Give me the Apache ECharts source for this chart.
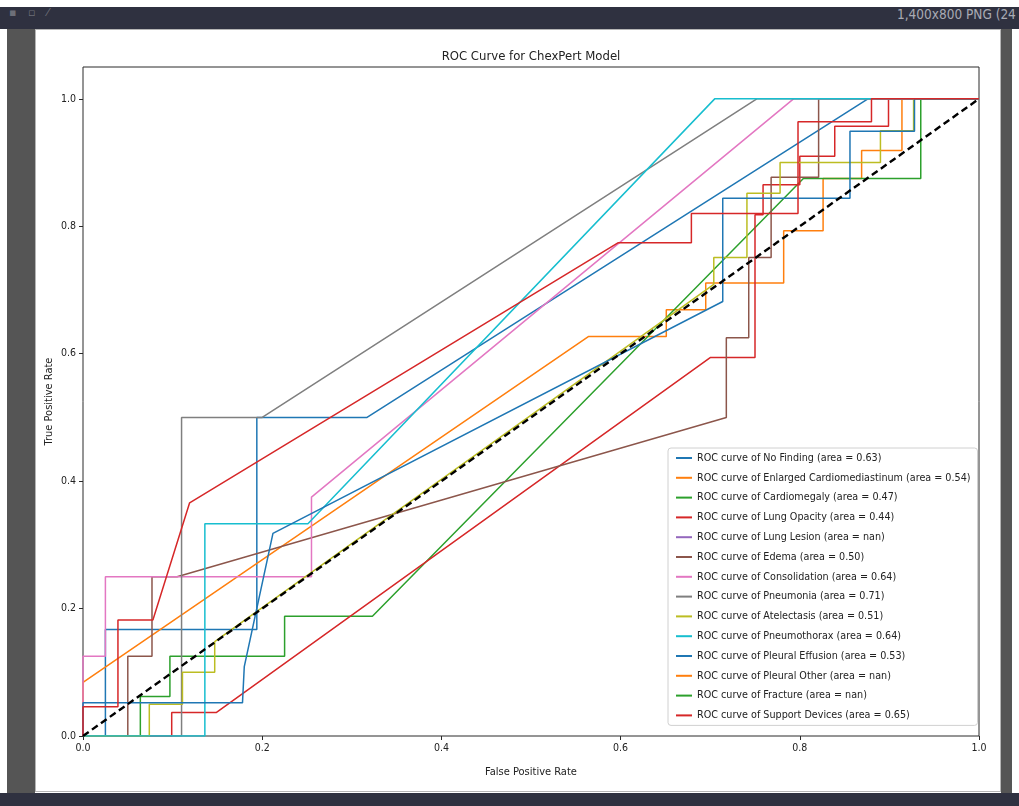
<!DOCTYPE html>
<html>
<head>
<meta charset="utf-8">
<title>ROC Curve for ChexPert Model</title>
<script src="https://cdn.jsdelivr.net/npm/echarts@6/dist/echarts.min.js"></script>
<style>
  html, body { margin: 0; padding: 0; background: #fff; }
  #frame { position: relative; width: 1019px; height: 806px; overflow: hidden; background: #fff; }
  .band { position: absolute; background: #2f3140; }
  .side { position: absolute; background: #555; }
  #paper { position: absolute; left: 35px; top: 29px; width: 966px; height: 763px; background: #fff; border: 1px solid #b5b5b5; box-sizing: border-box; }
  #chart { position: absolute; left: 36px; top: 30px; width: 964px; height: 761px; }
  #info { position: absolute; left: 897px; top: 6px; color: #a9abb4; font: 13.5px 'DejaVu Sans Condensed', 'DejaVu Sans', sans-serif; white-space: nowrap; }
  #icons { position: absolute; left: 9px; top: 6px; color: #6d6f78; font: 11px 'DejaVu Sans', sans-serif; letter-spacing: 4px; }
</style>
</head>
<body>
<div id="frame">
  <div class="band" style="left:0;top:7px;width:1019px;height:22px"></div>
  <div class="side" style="left:7px;top:29px;width:28px;height:764px"></div>
  <div class="side" style="left:1001px;top:29px;width:11px;height:764px"></div>
  <div class="band" style="left:0;top:793px;width:1019px;height:13px"></div>
  <div id="icons">▪ ▫ ⁄</div>
  <div id="info">1,400x800 PNG (24</div>
  <div id="paper"></div>
  <div id="chart"></div>
</div>
<script>
// ROC points (fpr, tpr)
const legendNames = [
  'ROC curve of No Finding (area = 0.63)',
  'ROC curve of Enlarged Cardiomediastinum (area = 0.54)',
  'ROC curve of Cardiomegaly (area = 0.47)',
  'ROC curve of Lung Opacity (area = 0.44)',
  'ROC curve of Lung Lesion (area = nan)',
  'ROC curve of Edema (area = 0.50)',
  'ROC curve of Consolidation (area = 0.64)',
  'ROC curve of Pneumonia (area = 0.71)',
  'ROC curve of Atelectasis (area = 0.51)',
  'ROC curve of Pneumothorax (area = 0.64)',
  'ROC curve of Pleural Effusion (area = 0.53)',
  'ROC curve of Pleural Other (area = nan)',
  'ROC curve of Fracture (area = nan)',
  'ROC curve of Support Devices (area = 0.65)'
];

const noFindingFpr = [0, 0.025, 0.025, 0.194, 0.194, 0.317, 0.876, 1];
const noFindingTpr = [0, 0, 0.167, 0.167, 0.5, 0.5, 1, 1];

const enlargedFpr = [0, 0, 0.564, 0.651, 0.651, 0.695, 0.695, 0.782, 0.782, 0.826, 0.826, 0.869, 0.869, 0.914, 0.914, 1];
const enlargedTpr = [0, 0.084, 0.627, 0.627, 0.669, 0.669, 0.711, 0.711, 0.793, 0.793, 0.875, 0.875, 0.919, 0.919, 1, 1];

const cardiomegalyFpr = [0, 0.064, 0.064, 0.097, 0.097, 0.225, 0.225, 0.323, 0.804, 0.935, 0.935, 1];
const cardiomegalyTpr = [0, 0, 0.062, 0.062, 0.125, 0.125, 0.188, 0.188, 0.875, 0.875, 1, 1];

const lungOpacityFpr = [0, 0.099, 0.099, 0.149, 0.70, 0.75, 0.75, 0.759, 0.759, 0.80, 0.80, 0.839, 0.839, 0.899, 0.899, 1];
const lungOpacityTpr = [0, 0, 0.037, 0.037, 0.594, 0.594, 0.818, 0.818, 0.865, 0.865, 0.91, 0.91, 0.957, 0.957, 1, 1];

// nan curves: no positives, nothing drawn
const lungLesionFpr = [];
const lungLesionTpr = [];

const edemaFpr = [0, 0.05, 0.05, 0.077, 0.077, 0.105, 0.718, 0.718, 0.743, 0.743, 0.768, 0.768, 0.821, 0.821, 1];
const edemaTpr = [0, 0, 0.125, 0.125, 0.25, 0.25, 0.5, 0.625, 0.625, 0.751, 0.751, 0.877, 0.877, 1, 1];

const consolidationFpr = [0, 0, 0.025, 0.025, 0.255, 0.255, 0.793, 1];
const consolidationTpr = [0, 0.125, 0.125, 0.25, 0.25, 0.375, 1, 1];

const pneumoniaFpr = [0, 0.11, 0.11, 0.2, 0.752, 1];
const pneumoniaTpr = [0, 0, 0.5, 0.5, 1, 1];

const atelectasisFpr = [0, 0.074, 0.074, 0.111, 0.111, 0.147, 0.147, 0.704, 0.704, 0.741, 0.741, 0.778, 0.778, 0.89, 0.89, 0.927, 0.927, 1];
const atelectasisTpr = [0, 0, 0.05, 0.05, 0.1, 0.1, 0.148, 0.709, 0.751, 0.751, 0.852, 0.852, 0.9, 0.9, 0.95, 0.95, 1, 1];

const pneumothoraxFpr = [0, 0.136, 0.136, 0.251, 0.705, 1];
const pneumothoraxTpr = [0, 0, 0.333, 0.333, 1, 1];

const effusionFpr = [0, 0, 0.178, 0.18, 0.212, 0.714, 0.714, 0.856, 0.856, 0.928, 0.928, 1];
const effusionTpr = [0, 0.052, 0.052, 0.109, 0.318, 0.682, 0.844, 0.844, 0.949, 0.949, 1, 1];

const pleuralOtherFpr = [];
const pleuralOtherTpr = [];

const fractureFpr = [];
const fractureTpr = [];

const supportFpr = [0, 0, 0.039, 0.039, 0.078, 0.119, 0.597, 0.679, 0.679, 0.798, 0.798, 0.88, 0.88, 1];
const supportTpr = [0, 0.046, 0.046, 0.182, 0.182, 0.366, 0.774, 0.774, 0.82, 0.82, 0.964, 0.964, 1, 1];

const chanceFpr = [0, 1];
const chanceTpr = [0, 1];

const axisTicks = [0, 0.2, 0.4, 0.6, 0.8, 1.0];

const curves = [
  [noFindingFpr, noFindingTpr],
  [enlargedFpr, enlargedTpr],
  [cardiomegalyFpr, cardiomegalyTpr],
  [lungOpacityFpr, lungOpacityTpr],
  [lungLesionFpr, lungLesionTpr],
  [edemaFpr, edemaTpr],
  [consolidationFpr, consolidationTpr],
  [pneumoniaFpr, pneumoniaTpr],
  [atelectasisFpr, atelectasisTpr],
  [pneumothoraxFpr, pneumothoraxTpr],
  [effusionFpr, effusionTpr],
  [pleuralOtherFpr, pleuralOtherTpr],
  [fractureFpr, fractureTpr],
  [supportFpr, supportTpr]
];

// matplotlib tab10 cycle
const colors = ['#1f77b4', '#ff7f0e', '#2ca02c', '#d62728', '#9467bd', '#8c564b', '#e377c2',
  '#7f7f7f', '#bcbd22', '#17becf', '#1f77b4', '#ff7f0e', '#2ca02c', '#d62728'];

const font = "'DejaVu Sans Condensed', 'DejaVu Sans', sans-serif";
const zip = (xs, ys) => xs.map((x, i) => [x, ys[i]]);

const chart = echarts.init(document.getElementById('chart'), null, { renderer: 'canvas' });

const series = curves.map(([fpr, tpr], i) => ({
  name: legendNames[i],
  type: 'line',
  data: zip(fpr, tpr),
  showSymbol: false,
  symbol: 'none',
  lineStyle: { color: colors[i], width: 1.5 },
  itemStyle: { color: colors[i] },
  z: 2
}));

series.push({
  name: 'chance',
  type: 'line',
  data: zip(chanceFpr, chanceTpr),
  showSymbol: false,
  symbol: 'none',
  lineStyle: { color: '#000', width: 2.4, type: [7, 4] },
  z: 3
});

const option = {
  animation: false,
  backgroundColor: '#fff',
  title: {
    text: 'ROC Curve for ChexPert Model',
    left: 490,
    top: 15,
    textAlign: 'center',
    textStyle: { fontFamily: font, fontSize: 13, fontWeight: 'normal', color: '#222' }
  },
  grid: {
    left: 47, top: 37, width: 896, height: 669,
    outerBoundsMode: 'none',
    containLabel: false,
    show: true, borderColor: '#2a2a2a', borderWidth: 1, backgroundColor: 'transparent'
  },
  legend: {
    data: legendNames,
    orient: 'vertical',
    left: 632,
    top: 418,
    icon: 'rect',
    itemWidth: 16,
    itemHeight: 2,
    itemGap: 5.8,
    itemTextGap: 5,
    padding: [3, 7, 3, 8],
    backgroundColor: 'rgba(255,255,255,0.85)',
    borderColor: '#d0d0d0',
    borderWidth: 1,
    borderRadius: 3,
    selectedMode: false,
    textStyle: { fontFamily: font, fontSize: 10.7, color: '#222', lineHeight: 14 }
  },
  xAxis: {
    type: 'value',
    min: 0, max: 1, interval: 0.2,
    name: 'False Positive Rate',
    nameLocation: 'middle',
    nameGap: 31,
    nameTextStyle: { fontFamily: font, fontSize: 11, color: '#222' },
    axisLine: { show: false },
    axisTick: { show: true, length: 4, lineStyle: { color: '#2a2a2a' }, customValues: axisTicks },
    axisLabel: {
      fontFamily: font, fontSize: 10.5, color: '#222', margin: 7,
      customValues: axisTicks,
      formatter: v => v.toFixed(1)
    },
    splitLine: { show: false }
  },
  yAxis: {
    type: 'value',
    min: 0, max: 1.05,
    name: 'True Positive Rate',
    nameLocation: 'middle',
    nameGap: 28,
    nameMoveOverlap: false,
    nameRotate: 90,
    nameTextStyle: { fontFamily: font, fontSize: 11, color: '#222' },
    axisLine: { show: false },
    axisTick: { show: true, length: 4, lineStyle: { color: '#2a2a2a' }, customValues: axisTicks },
    axisLabel: {
      fontFamily: font, fontSize: 10.5, color: '#222', margin: 7,
      customValues: axisTicks,
      formatter: v => v.toFixed(1)
    },
    splitLine: { show: false }
  },
  series: series
};

chart.setOption(option);
</script>
</body>
</html>
